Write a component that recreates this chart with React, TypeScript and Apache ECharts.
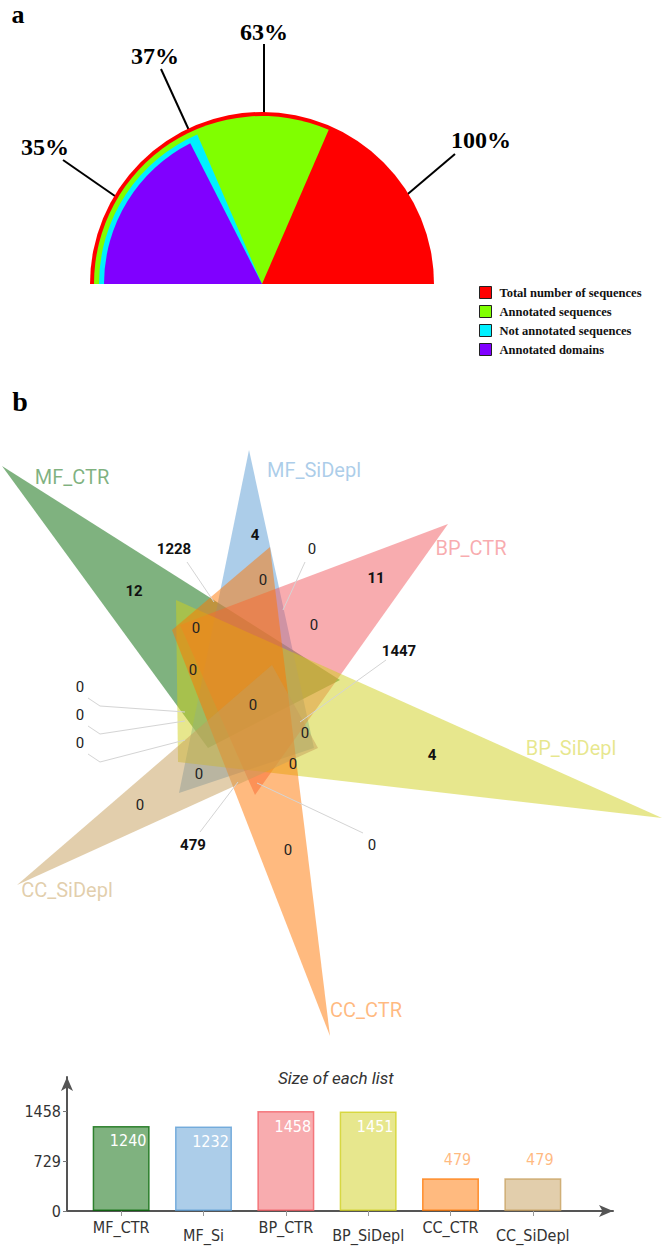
import React, { useEffect, useRef } from 'react';
import * as echarts from 'echarts';

// ---------- Part a : half pie ----------
const pieNames = ['Total number of sequences', 'Annotated sequences', 'Not annotated sequences', 'Annotated domains'];
const piePercents = [100, 63, 37, 35];
const pieColors = ['#ff0000', '#80ff00', '#00f0ff', '#8000ff'];

// ---------- Part b : venn ----------
const setNames = ['MF_CTR', 'MF_SiDepl', 'BP_CTR', 'BP_SiDepl', 'CC_CTR', 'CC_SiDepl'];
const setColors = ['#006600', '#5a9bd4', '#f15a60', '#cfcf1b', '#ff7500', '#c59d5a'];
const regionCounts = [12, 1228, 4, 0, 0, 11, 0, 0, 1447, 0, 0, 0, 0, 0, 0, 4, 0, 0, 0, 479, 0, 0];

// ---------- Part b : size of each list ----------
const barCategories = ['MF_CTR', 'MF_Si', 'BP_CTR', 'BP_SiDepl', 'CC_CTR', 'CC_SiDepl'];
const listSizes = [1240, 1232, 1458, 1451, 479, 479];
const yTickValues = [0, 729, 1458];

// ---------- layout (geometry, positions) ----------
const W = 664;
const H = 1251;
const pieCenter = [262, 284];
const pieRadii = [172, 168, 163, 158];
const pieLabelPos = [[481, 140], [264, 32], [155, 56], [45, 147]];
const pieLeaders = [
  [[455, 154], [396, 204]],
  [[264, 44], [264, 133]],
  [[161, 69], [198, 150]],
  [[63, 160], [138, 212]],
];

const vennTriangles = [
  [[2, 466], [340, 680], [208, 748]],
  [[249, 450], [179, 793], [314, 748]],
  [[448, 524], [180, 625], [255, 795]],
  [[662, 818], [176, 600], [178, 762]],
  [[330, 1036], [172, 630], [270, 547]],
  [[17, 885], [272, 665], [318, 748]],
];
const setLabelPos = [[72, 477], [314, 470], [471, 548], [571, 748], [366, 1010], [67, 890]];
const regionLabelPos = [
  [134, 591], [174, 549], [255, 535], [312, 549], [263, 580], [376, 578],
  [196, 628], [314, 625], [399, 651], [193, 670], [80, 687], [80, 715],
  [80, 743], [253, 705], [305, 733], [432, 755], [293, 764], [199, 774],
  [140, 805], [193, 845], [288, 850], [372, 845],
];
const leaderLines = [
  [[187, 562], [214, 602]],
  [[305, 562], [283, 610]],
  [[386, 660], [300, 722]],
  [[88, 698], [100, 706], [185, 712]],
  [[88, 726], [100, 734], [185, 721]],
  [[88, 754], [100, 762], [185, 740]],
  [[200, 832], [238, 782]],
  [[363, 833], [257, 783]],
];

const fade = (hex: string, a: number) => {
  const n = parseInt(hex.slice(1), 16);
  return `rgba(${(n >> 16) & 255},${(n >> 8) & 255},${n & 255},${a})`;
};

const narrow = "'Liberation Sans Narrow', 'DejaVu Sans Condensed', 'Roboto', sans-serif";
const serif = "'Liberation Serif', 'Times New Roman', serif";

function buildOption(): any {
  const yMax = 1954;

  const pieSeries = pieNames.map((name, i) => ({
    type: 'pie',
    center: pieCenter,
    radius: [0, pieRadii[i]],
    startAngle: 180,
    endAngle: 0,
    clockwise: true,
    silent: true,
    animation: false,
    label: { show: false },
    labelLine: { show: false },
    emphasis: { disabled: true },
    itemStyle: { borderWidth: 0 },
    data: [
      { name, value: piePercents[i], itemStyle: { color: pieColors[i] } },
      ...(piePercents[i] < 100
        ? [{ name: 'rest' + i, value: 100 - piePercents[i], itemStyle: { color: 'rgba(0,0,0,0)' } }]
        : []),
    ],
  }));

  const pieGraphics: any[] = [];
  pieLeaders.forEach((pts, i) => {
    pieGraphics.push({
      type: 'polyline',
      shape: { points: pts },
      style: { stroke: '#000', lineWidth: 2, fill: null },
      silent: true,
    });
    pieGraphics.push({
      type: 'text',
      x: pieLabelPos[i][0],
      y: pieLabelPos[i][1],
      style: {
        text: piePercents[i] + '%',
        fontFamily: serif,
        fontWeight: 'bold',
        fontSize: 24,
        fill: '#000',
        align: 'center',
        verticalAlign: 'middle',
      },
      silent: true,
    });
  });

  const labelFont = { fontFamily: narrow, fontSize: 16, color: '#333' };

  return {
    animation: false,
    backgroundColor: '#fff',
    title: {
      text: 'Size of each list',
      left: 273,
      top: 1064,
      textStyle: { fontStyle: 'italic', fontWeight: 'normal', fontSize: 17, fontFamily: 'Roboto', color: '#333' },
    },
    legend: {
      orient: 'vertical',
      left: 474,
      top: 281,
      itemWidth: 12,
      itemHeight: 12,
      itemGap: 6,
      icon: 'rect',
      selectedMode: false,
      data: pieNames,
      itemStyle: { borderColor: '#222', borderWidth: 1 },
      textStyle: { fontFamily: serif, fontWeight: 'bold', fontSize: 12.5, color: '#111', padding: [0, 0, 0, 3] },
    },
    grid: [
      { left: 0, top: 0, width: W, height: H },
      { left: 80, top: 1077, width: 494, height: 134 },
      { left: 67, top: 1077, width: 546, height: 134 },
    ],
    xAxis: [
      { gridIndex: 0, type: 'value', min: 0, max: W, show: false },
      {
        gridIndex: 1,
        type: 'category',
        data: barCategories,
        axisLine: { show: false },
        axisTick: { show: true, alignWithLabel: true, length: 5, lineStyle: { color: '#999' } },
        axisLabel: {
          interval: 0,
          ...labelFont,
          margin: 7,
          formatter: (v: string, i: number) => (i % 2 ? '{lo|' + v + '}' : '{hi|' + v + '}'),
          rich: {
            hi: { ...labelFont, lineHeight: 18 },
            lo: { ...labelFont, lineHeight: 18, padding: [16, 0, 0, 0] },
          },
        },
      },
      {
        gridIndex: 2,
        type: 'value',
        min: 0,
        max: 1,
        axisLine: { show: true, symbol: ['none', 'arrow'], symbolSize: [9, 14], lineStyle: { color: '#555', width: 2 } },
        axisTick: { show: false },
        axisLabel: { show: false },
        splitLine: { show: false },
      },
    ],
    yAxis: [
      { gridIndex: 0, type: 'value', min: 0, max: H, inverse: true, show: false },
      { gridIndex: 1, type: 'value', min: 0, max: yMax, show: false },
      {
        gridIndex: 2,
        type: 'value',
        min: 0,
        max: yMax,
        axisLine: { show: true, symbol: ['none', 'arrow'], symbolSize: [9, 14], lineStyle: { color: '#555', width: 2 } },
        axisTick: { show: true, length: 4, customValues: yTickValues, lineStyle: { color: '#777' } },
        axisLabel: {
          customValues: yTickValues,
          ...labelFont,
          margin: 6,
          formatter: (v: number) => String(v),
        },
        splitLine: { show: false },
      },
    ],
    graphic: [
      {
        type: 'text', x: 18, y: 1,
        style: { text: 'a', fontFamily: serif, fontWeight: 'bold', fontSize: 26, fill: '#000', align: 'center', verticalAlign: 'top' },
      },
      {
        type: 'text', x: 20, y: 401,
        style: { text: 'b', fontFamily: serif, fontWeight: 'bold', fontSize: 28, fill: '#000', align: 'center', verticalAlign: 'middle' },
      },
      ...pieGraphics,
    ],
    series: [
      ...pieSeries,
      // Venn triangles
      {
        type: 'custom',
        xAxisIndex: 0,
        yAxisIndex: 0,
        silent: true,
        clip: false,
        z: 1,
        data: vennTriangles.map((_, i) => [i, 0]),
        renderItem: (params: any, api: any) => {
          const i = params.dataIndex;
          const pts = vennTriangles[i].map((p) => api.coord(p));
          return {
            type: 'polygon',
            shape: { points: pts },
            style: { fill: setColors[i], opacity: 0.5 },
          };
        },
      },
      // leader lines
      {
        type: 'custom',
        xAxisIndex: 0,
        yAxisIndex: 0,
        silent: true,
        clip: false,
        z: 2,
        data: leaderLines.map((_, i) => [i, 0]),
        renderItem: (params: any, api: any) => ({
          type: 'polyline',
          shape: { points: leaderLines[params.dataIndex].map((p) => api.coord(p)) },
          style: { stroke: '#d4d4d4', lineWidth: 1, fill: null },
        }),
      },
      // region counts
      {
        type: 'custom',
        xAxisIndex: 0,
        yAxisIndex: 0,
        silent: true,
        clip: false,
        z: 3,
        data: regionCounts.map((v, i) => [regionLabelPos[i][0], regionLabelPos[i][1], v]),
        renderItem: (params: any, api: any) => {
          const p = api.coord([api.value(0), api.value(1)]);
          const v = api.value(2);
          return {
            type: 'text',
            x: p[0],
            y: p[1],
            style: {
              text: String(v),
              fontFamily: 'Roboto, sans-serif',
              fontSize: 15,
              fontWeight: v > 0 ? 'bold' : 'normal',
              fill: v > 0 ? '#111' : '#222',
              align: 'center',
              verticalAlign: 'middle',
            },
          };
        },
      },
      // set names
      {
        type: 'custom',
        xAxisIndex: 0,
        yAxisIndex: 0,
        silent: true,
        clip: false,
        z: 3,
        data: setNames.map((_, i) => [setLabelPos[i][0], setLabelPos[i][1]]),
        renderItem: (params: any, api: any) => {
          const p = api.coord([api.value(0), api.value(1)]);
          return {
            type: 'text',
            x: p[0],
            y: p[1],
            style: {
              text: setNames[params.dataIndex],
              fontFamily: 'Roboto, sans-serif',
              fontSize: 20,
              fill: fade(setColors[params.dataIndex], 0.5),
              align: 'center',
              verticalAlign: 'middle',
            },
          };
        },
      },
      // bar chart
      {
        type: 'bar',
        xAxisIndex: 1,
        yAxisIndex: 1,
        barWidth: 57,
        silent: true,
        data: listSizes.map((v, i) => {
          const inside = v > yMax / 2;
          return {
            value: v,
            itemStyle: { color: fade(setColors[i], 0.5), borderColor: fade(setColors[i], 0.75), borderWidth: 1.5 },
            label: {
              show: true,
              position: inside ? 'insideTop' : 'top',
              distance: inside ? 7 : 11,
              offset: [7, 0],
              fontFamily: narrow,
              fontSize: 16,
              color: inside ? '#fff' : fade('#ff7500', 0.5),
            },
          };
        }),
      },
    ],
  };
}

export default function App() {
  const ref = useRef<HTMLDivElement>(null);
  useEffect(() => {
    document.body.style.margin = '0';
    const chart = echarts.init(ref.current!, null, { renderer: 'svg' });
    chart.setOption(buildOption());
    return () => chart.dispose();
  }, []);
  return <div ref={ref} style={{ width: W, height: H }} />;
}
